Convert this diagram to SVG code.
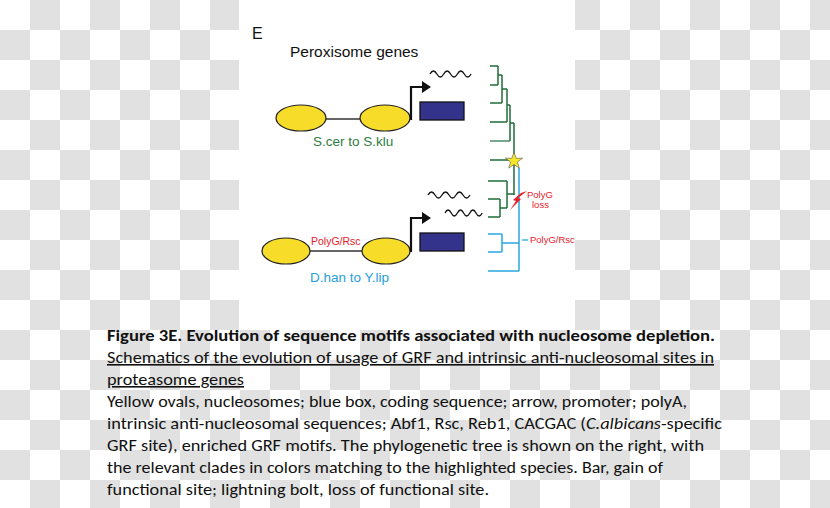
<svg xmlns="http://www.w3.org/2000/svg" width="830" height="508" viewBox="0 0 830 508">
<defs>
<pattern id="chk" width="60" height="60" patternUnits="userSpaceOnUse">
<rect width="60" height="60" fill="#ffffff"/>
<rect x="30" y="0" width="30" height="30" fill="#e1e1e1"/>
<rect x="0" y="30" width="30" height="30" fill="#e1e1e1"/>
</pattern>
<style>
.sans{font-family:"Liberation Sans",Arial,sans-serif}
.cap{font-family:Carlito,Lato,"Liberation Sans",sans-serif;font-size:16px;fill:#111}
.nuc{fill:#f7dc2a;stroke:#222;stroke-width:1.2}
.dna{stroke:#333;stroke-width:1.3;fill:none}
.prom{stroke:#111;stroke-width:2.2;fill:none}
.cds{fill:#33338c;stroke:#111;stroke-width:1.3}
.wave{stroke:#111;stroke-width:1.3;fill:none}
.g{stroke:#1f6e3a;stroke-width:1.5;fill:none}
.b{stroke:#2aa7e1;stroke-width:1.5;fill:none}
.red{fill:#e8202a}
</style>
</defs>
<rect width="830" height="508" fill="url(#chk)"/>
<rect x="239" y="0" width="336" height="330" fill="#ffffff"/>

<g id="panel-label">
<text class="sans" x="252" y="39" font-size="16" fill="#111">E</text>
<text class="sans" x="290" y="57" font-size="15.5" fill="#111">Peroxisome genes</text>
</g>

<g id="gene-top">
<line class="dna" x1="276" y1="119" x2="411" y2="119"/>
<ellipse class="nuc" cx="301" cy="118" rx="25" ry="13"/>
<ellipse class="nuc" cx="385" cy="118" rx="25" ry="13"/>
<path class="prom" d="M411,120 V87 H424"/>
<polygon points="422,81 431,87 422,93" fill="#111"/>
<rect class="cds" x="420" y="102" width="44" height="18"/>
<path class="wave" d="M430,74 q3.4,-6 6.85,0 t6.85,0 t6.85,0 t6.85,0 t6.85,0 t6.85,0"/>
<text class="sans" x="313" y="146" font-size="13.5" fill="#2e7d40">S.cer to S.klu</text>
</g>

<g id="gene-bottom">
<line class="dna" x1="262" y1="251" x2="411" y2="251"/>
<ellipse class="nuc" cx="286" cy="251" rx="24" ry="13"/>
<ellipse class="nuc" cx="386" cy="251" rx="24" ry="13"/>
<path class="prom" d="M411,252 V218 H424"/>
<polygon points="422,212 431,218 422,224" fill="#111"/>
<rect class="cds" x="420" y="233" width="44" height="18"/>
<path class="wave" d="M428,195 q3.5,-6 7,0 t7,0 t7,0 t7,0 t7,0 t7,0"/>
<path class="wave" d="M445,213 q3.1,-6 6.2,0 t6.2,0 t6.2,0 t6.2,0 t6.2,0 t6.2,0"/>
<text class="sans" x="311" y="245" font-size="10.5" fill="#e8202a">PolyG/Rsc</text>
<text class="sans" x="310" y="282" font-size="13.5" fill="#1fa0dc">D.han to Y.lip</text>
</g>

<g id="connectors">
<path class="g" d="M490,66 H498 M490,85 H498 M498,66 V85 M498,75 H502 M490,103 H502 M502,75 V103 M502,89 H507 M490,122 H507 M507,89 V122 M507,105 H510 M510,105 V141 M510,123 H514 M490,160 H514 M514,123 V195"/>
<path d="M490,141 H510" stroke="#4d8a6a" stroke-width="1.5" fill="none"/>
<path class="g" d="M488,181 H507 M488,199 H500 M488,217 H500 M500,199 V217 M500,208 H507 M507,181 V208 M507,194 H514"/>
<path class="b" d="M519,168 V271 M488,234 H502 M488,252 H502 M502,234 V252 M502,243 H519 M488,271 H519"/>
<path d="M522,240 H528" stroke="#2aa7e1" stroke-width="1.3"/>
</g>

<g id="gain-star">
<polygon points="514,152 516.2,158.3 522.6,158.2 517.4,162 519.3,168.1 514,164.5 508.7,168.1 510.6,162 505.4,158.2 511.8,158.3" fill="#f5e62a" stroke="#555" stroke-width="0.6"/>
</g>

<g id="loss-bolt">
<polygon class="red" points="527,191 518,198 521,199 510,210 516,201 513,200 521,193"/>
<text class="sans" x="527" y="198" font-size="9.5" fill="#e8202a">PolyG</text>
<text class="sans" x="532" y="208" font-size="9.5" fill="#e8202a">loss</text>
</g>

<g id="label-polyg-rsc">
<text class="sans" x="530" y="243" font-size="9.5" fill="#e8202a">PolyG/Rsc</text>
</g>

<g id="caption">
<text class="cap" x="107" y="341" font-weight="bold" textLength="608" lengthAdjust="spacingAndGlyphs">Figure 3E. Evolution of sequence motifs associated with nucleosome depletion.</text>
<text class="cap" x="107" y="363" text-decoration="underline" textLength="607" lengthAdjust="spacingAndGlyphs">Schematics of the evolution of usage of GRF and intrinsic anti-nucleosomal sites in</text>
<text class="cap" x="107" y="385" text-decoration="underline" textLength="137" lengthAdjust="spacingAndGlyphs">proteasome genes</text>
<text class="cap" x="107" y="407" textLength="580" lengthAdjust="spacingAndGlyphs">Yellow ovals, nucleosomes; blue box, coding sequence; arrow, promoter; polyA,</text>
<text class="cap" x="107" y="429" textLength="615" lengthAdjust="spacingAndGlyphs">intrinsic anti-nucleosomal sequences; Abf1, Rsc, Reb1, CACGAC (<tspan font-style="italic">C.albicans</tspan>-specific</text>
<text class="cap" x="107" y="451" textLength="597" lengthAdjust="spacingAndGlyphs">GRF site), enriched GRF motifs. The phylogenetic tree is shown on the right, with</text>
<text class="cap" x="107" y="473" textLength="556" lengthAdjust="spacingAndGlyphs">the relevant clades in colors matching to the highlighted species. Bar, gain of</text>
<text class="cap" x="107" y="495" textLength="382" lengthAdjust="spacingAndGlyphs">functional site; lightning bolt, loss of functional site.</text>
</g>
</svg>
